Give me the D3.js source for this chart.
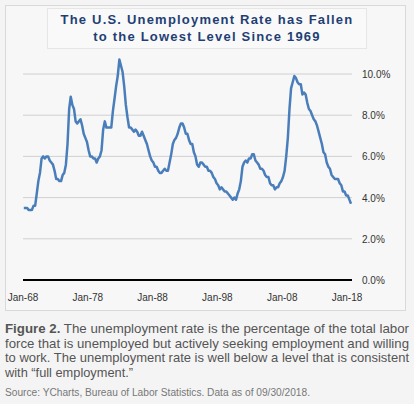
<!DOCTYPE html>
<html><head><meta charset="utf-8">
<script src="https://cdn.jsdelivr.net/npm/d3@7"></script>
<style>
body{margin:0;background:#f4f4f4;font-family:"Liberation Sans",Arial,sans-serif;}
</style></head><body>
<svg id="chart" width="414" height="404"></svg>
<script>
// Data: quarterly US unemployment rate (%), starting Q1 1968
const startYear = 1968;
const rates = [
  3.5,3.5,3.5,3.4, 3.4,3.4,3.6,3.6, 4.2,4.8,5.2,5.9, 6.0,5.9,6.0,6.0,
  5.8,5.7,5.6,5.3, 4.9,4.9,4.8,4.8, 5.1,5.2,5.6,6.6, 8.3,8.9,8.5,8.3,
  7.7,7.6,7.7,7.8, 7.5,7.1,6.9,6.7, 6.3,6.0,6.0,5.9, 5.9,5.7,5.9,6.0,
  6.3,7.3,7.7,7.4, 7.4,7.4,7.4,8.2, 8.8,9.4,9.9,10.7, 10.4,10.1,9.4,8.5,
  7.9,7.4,7.4,7.3, 7.2,7.3,7.2,7.0, 7.0,7.2,7.0,6.8, 6.6,6.3,6.0,5.8,
  5.7,5.5,5.5,5.3, 5.2,5.2,5.3,5.4, 5.3,5.3,5.7,6.1, 6.6,6.8,6.9,7.1,
  7.4,7.6,7.6,7.4, 7.1,7.1,6.8,6.6, 6.6,6.2,6.0,5.6, 5.5,5.7,5.7,5.6,
  5.5,5.5,5.3,5.3, 5.2,5.0,4.9,4.7, 4.6,4.4,4.5,4.4, 4.3,4.3,4.2,4.1,
  4.0,3.9,4.0,3.9, 4.2,4.4,4.8,5.5, 5.7,5.8,5.7,5.9, 5.9,6.1,6.1,5.8,
  5.7,5.6,5.4,5.4, 5.3,5.1,5.0,5.0, 4.7,4.6,4.6,4.4, 4.5,4.5,4.7,4.8,
  5.0,5.3,6.0,6.9, 8.3,9.3,9.6,9.9, 9.8,9.6,9.5,9.5, 9.0,9.1,9.0,8.6,
  8.3,8.2,8.0,7.8, 7.7,7.5,7.2,6.9, 6.6,6.2,6.1,5.7, 5.5,5.4,5.1,5.0,
  4.9,4.9,4.9,4.7, 4.6,4.3,4.3,4.1, 4.1,3.9,3.7
];
const yTicks = [0,2,4,6,8,10];
const xTickYears = [1968,1978,1988,1998,2008,2018];
const title = ["The U.S. Unemployment Rate has Fallen","to the Lowest Level Since 1969"];

const data = rates.map((v,i) => ({date: new Date(startYear + Math.floor(i/4), (i%4)*3 + 1, 15), v}));

const svg = d3.select("#chart");

// outer frame
svg.append("rect").attr("x",5.5).attr("y",5.5).attr("width",400).attr("height",305)
  .attr("fill","#f7f7f7").attr("stroke","#d9d9d9").attr("stroke-width",1);

// title box
svg.append("rect").attr("x",47.5).attr("y",8.5).attr("width",319).attr("height",40)
  .attr("fill","#f9f9f9").attr("stroke","#e6e6e6");
svg.selectAll("text.title").data(title).enter().append("text")
  .attr("x",207).attr("y",(d,i)=>24 + i*17)
  .attr("text-anchor","middle").attr("font-size",13).attr("font-weight","bold")
  .attr("letter-spacing",1.2).attr("fill","#1f3f74").text(d=>d);

// scales
const x = d3.scaleTime().domain([new Date(1968,0,1), new Date(2018,0,1)]).range([23,347]);
const y = d3.scaleLinear().domain([0,10]).range([280,74]);

// gridlines
svg.append("g").selectAll("line").data(yTicks.filter(d=>d>0)).enter().append("line")
  .attr("x1",23).attr("x2",352).attr("y1",d=>y(d)).attr("y2",d=>y(d))
  .attr("stroke","#d0d0d0").attr("stroke-width",1);
svg.append("line").attr("x1",23).attr("x2",352).attr("y1",y(0)).attr("y2",y(0))
  .attr("stroke","#000").attr("stroke-width",2);

// y labels
svg.append("g").selectAll("text").data(yTicks).enter().append("text")
  .attr("x",362).attr("y",d=>y(d)+4).attr("font-size",10).attr("fill","#333")
  .text(d=>d.toFixed(1)+"%");

// x labels
svg.append("g").selectAll("text").data(xTickYears).enter().append("text")
  .attr("x",d=>x(new Date(d,0,1))).attr("y",301).attr("text-anchor","middle")
  .attr("font-size",10).attr("fill","#333")
  .text(d=>"Jan-"+String(d).slice(2));

// line
svg.append("path").datum(data)
  .attr("d", d3.line().x(d=>x(d.date)).y(d=>y(d.v)))
  .attr("fill","none").attr("stroke","#4a7ebb").attr("stroke-width",2.5)
  .attr("stroke-linejoin","round");

// caption
const lines = [
  ["Figure 2.", " The unemployment rate is the percentage of the total labor", 404],
  ["", "force that is unemployed but actively seeking employment and willing", 404],
  ["", "to work. The unemployment rate is well below a level that is consistent", 404],
  ["", "with \u201cfull employment.\u201d", null]
];
lines.forEach((l,i)=>{
  const t = svg.append("text").attr("x",5).attr("y",333+i*14.5).attr("font-size",12.8).attr("fill","#555")
    .attr("textLength", l[2]).attr("lengthAdjust","spacingAndGlyphs");
  if(l[0]) t.append("tspan").attr("font-weight","bold").text(l[0]);
  t.append("tspan").text(l[1]);
});
svg.append("text").attr("x",5).attr("y",396).attr("font-size",10).attr("fill","#777")
  .attr("textLength",305).attr("lengthAdjust","spacingAndGlyphs")
  .text("Source: YCharts, Bureau of Labor Statistics. Data as of 09/30/2018.");
</script>
</body></html>
